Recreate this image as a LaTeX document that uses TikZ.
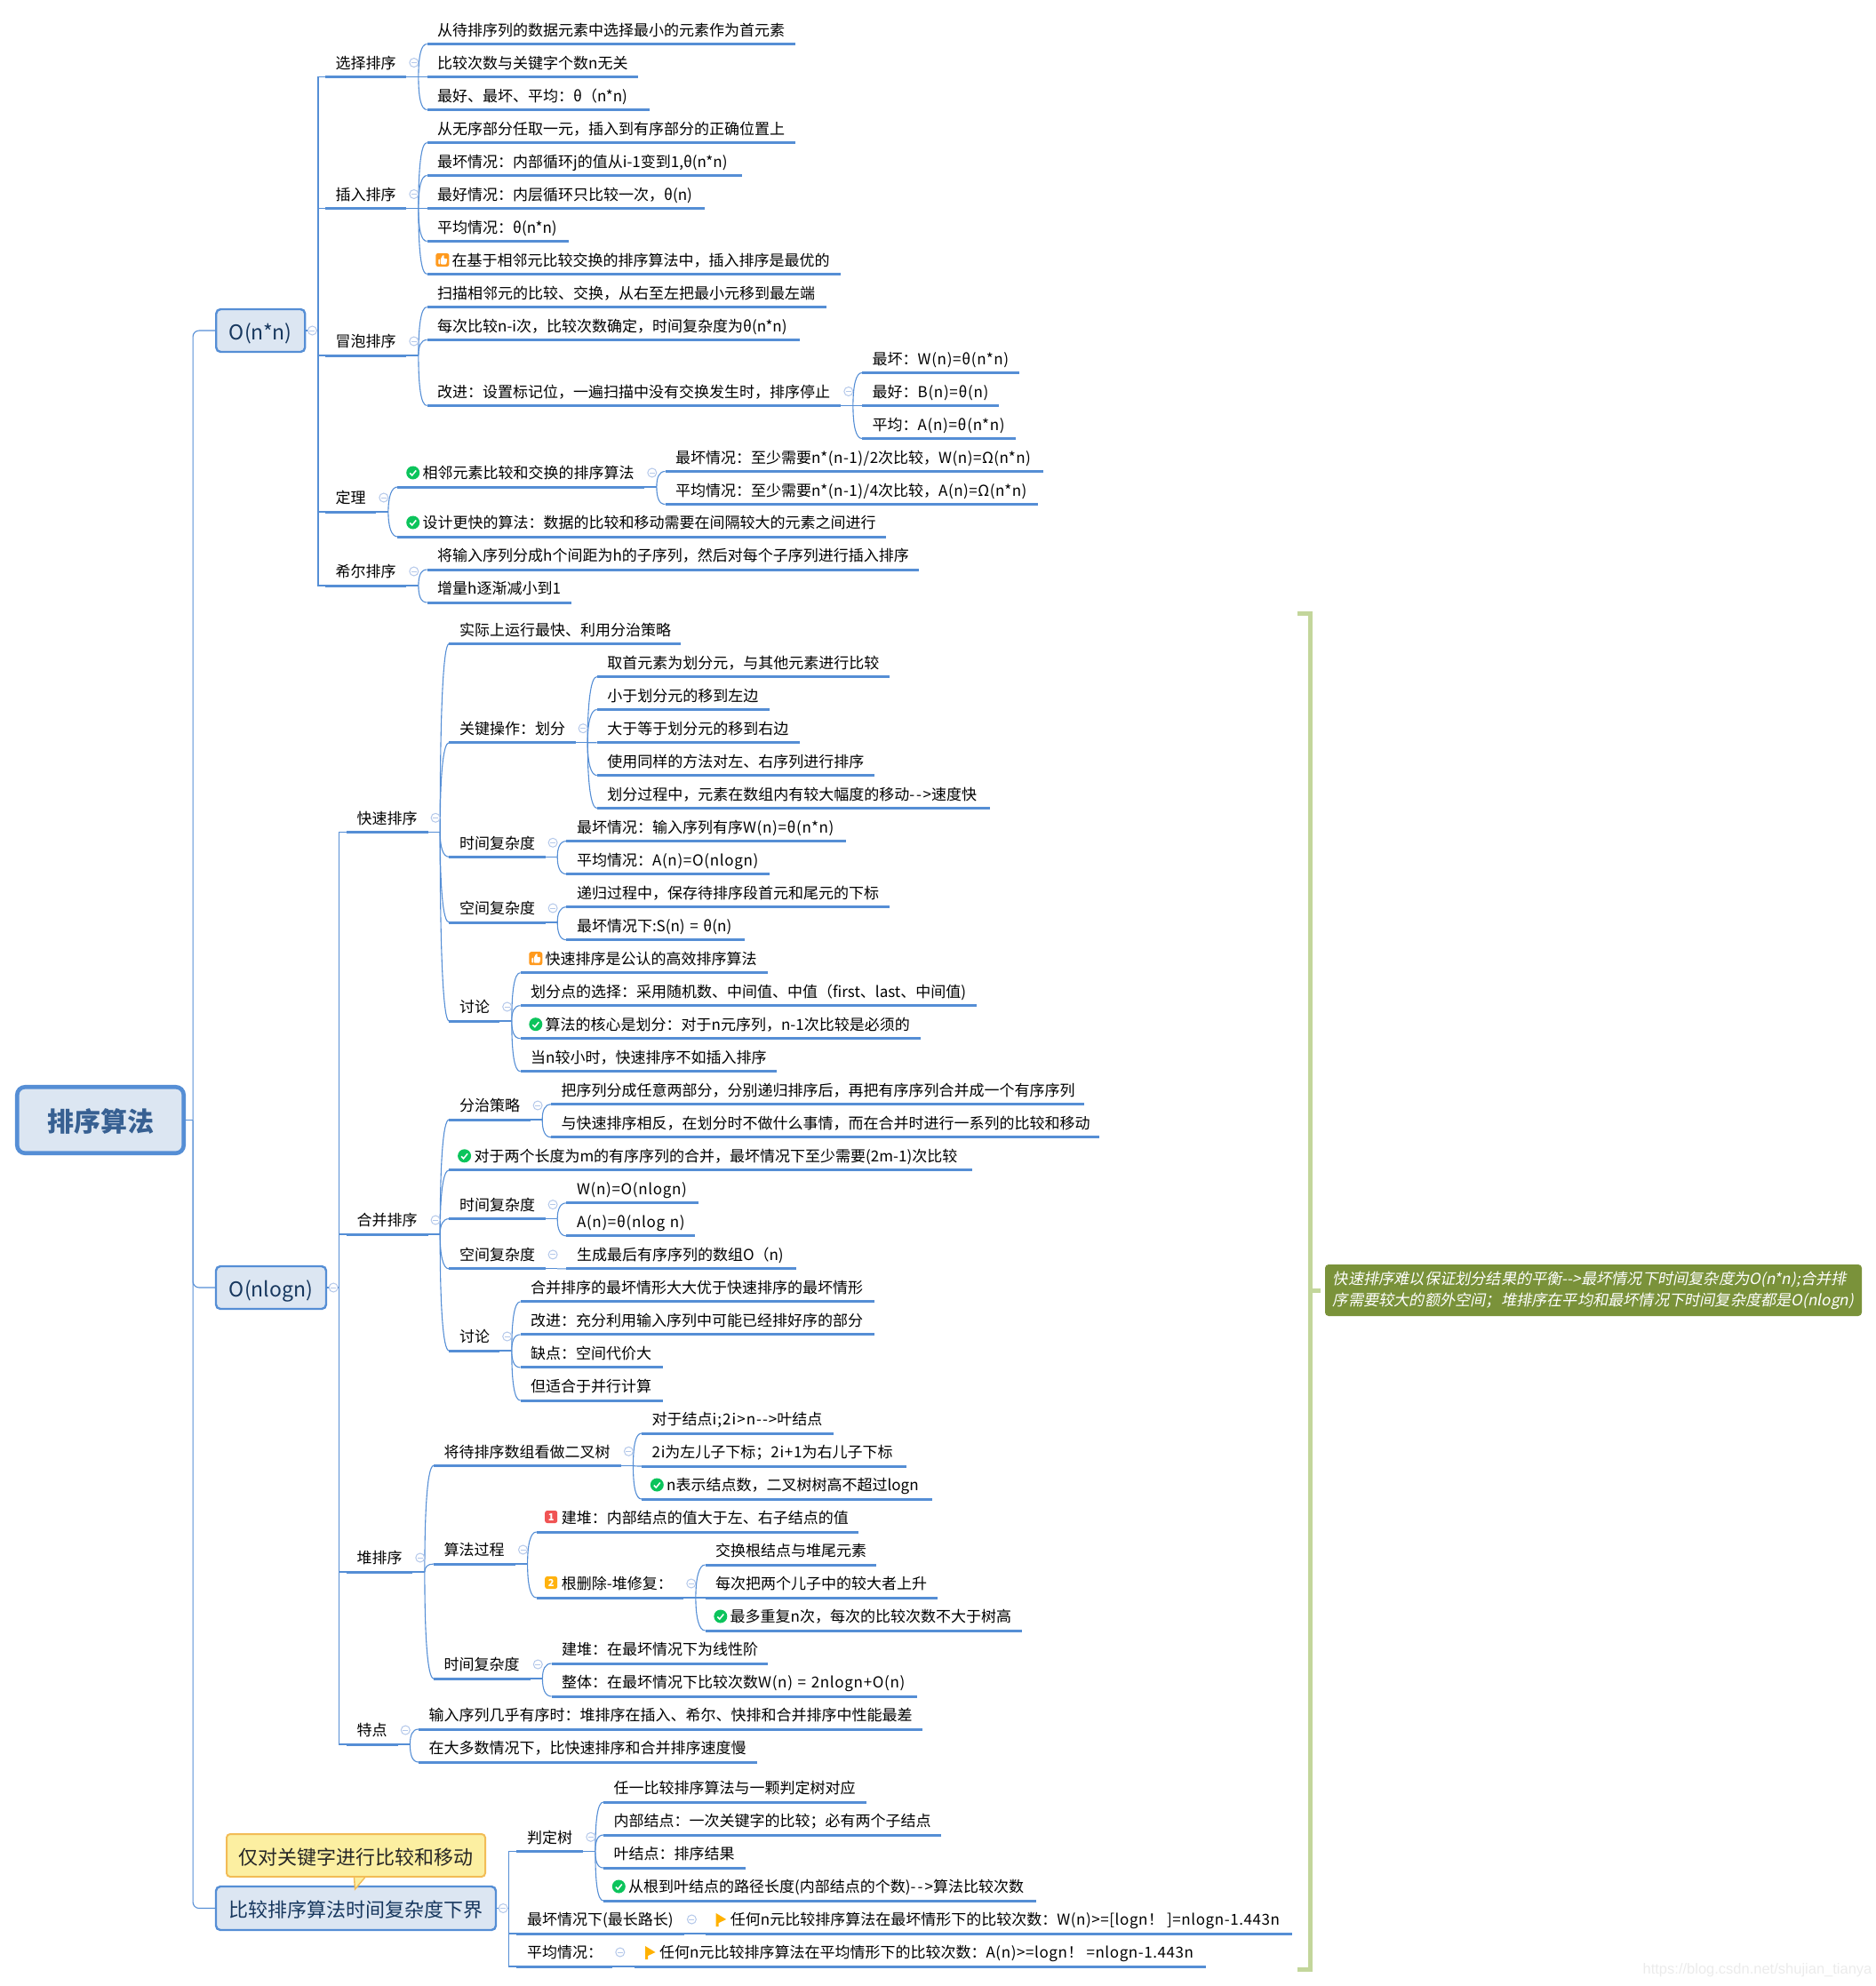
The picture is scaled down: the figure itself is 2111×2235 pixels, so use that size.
\documentclass[tikz,border=0pt]{standalone}
\usepackage{fontspec}
\usetikzlibrary{calc}
\setmainfont{Noto Sans CJK SC}
\newfontfamily\notefont[FakeSlant=0.2]{Noto Sans CJK SC}
\newfontfamily\markfont{Liberation Sans}
\definecolor{linkblue}{HTML}{558ED5}
\definecolor{foldblue}{HTML}{B4C8EA}
\definecolor{boxfill}{HTML}{DCE6F2}
\definecolor{boxtext}{HTML}{17375E}
\definecolor{roottext}{HTML}{376092}
\definecolor{okgreen}{HTML}{0CC45C}
\definecolor{thumborange}{HTML}{FF9A1E}
\definecolor{onered}{HTML}{F05454}
\definecolor{twoyellow}{HTML}{FFB20F}
\definecolor{flagyellow}{HTML}{FFB100}
\definecolor{callfill}{HTML}{FCEFA1}
\definecolor{callline}{HTML}{F2BC56}
\definecolor{bracegreen}{HTML}{C3D69B}
\definecolor{notegreen}{HTML}{7A923A}
\newcommand{\iconpad}{\hspace*{16.5pt}}
\newcommand{\wide}[2][4]{{\addfontfeature{LetterSpace=#1}#2}}
\exhyphenpenalty=10000
\hyphenpenalty=10000
\tikzset{
    topic/.style={anchor=south west, inner xsep=11.5pt, inner ysep=5pt, text width=#1pt-23pt,
        text height=13pt, text depth=4pt, align=left, font=\fontsize{17}{20}\selectfont},
    under/.style={draw=linkblue, line width=3pt},
    link/.style={draw=linkblue, line width=1.1pt},
    mainbox/.style={draw=linkblue, fill=boxfill, line width=2.4pt, rounded corners=5pt,
        text=boxtext, text height=24pt, text depth=4pt, font=\fontsize{22}{26}\selectfont},
    rootbox/.style={draw=linkblue, fill=boxfill, line width=4.6pt, rounded corners=9pt,
        text=roottext, text height=29pt, text depth=3.2pt, font=\fontsize{30}{36}\selectfont\bfseries},
    fold/.style={circle, draw=foldblue, fill=white, line width=1pt, minimum size=10pt, inner sep=0pt,
        path picture={\draw[foldblue, line width=1pt] ([xshift=2pt]path picture bounding box.west) -- ([xshift=-2pt]path picture bounding box.east);}},
    okmark/.style={circle, fill=okgreen, minimum size=15pt, inner sep=0pt,
        path picture={\draw[white, line width=1.5pt] ([shift={(-3.5,0.5)}]path picture bounding box.center) -- ([shift={(-1,3)}]path picture bounding box.center) -- ([shift={(3.5,-2.5)}]path picture bounding box.center);}},
    thumbmark/.style={rounded corners=2.5pt, fill=thumborange, minimum size=15pt, inner sep=0pt,
        path picture={\fill[white, rounded corners=1pt] ([shift={(-4.5,-1)}]path picture bounding box.center) rectangle ([shift={(-2.7,5)}]path picture bounding box.center);
            \fill[white, rounded corners=1pt] ([shift={(-2,5)}]path picture bounding box.center) -- ([shift={(-2,-1)}]path picture bounding box.center) -- ([shift={(0.5,-5.5)}]path picture bounding box.center) -- ([shift={(2,-5.5)}]path picture bounding box.center) -- ([shift={(1.5,-1.5)}]path picture bounding box.center) -- ([shift={(5.5,-1.5)}]path picture bounding box.center) -- ([shift={(4.5,5)}]path picture bounding box.center) -- cycle;}},
    numbermark/.style={rounded corners=2.5pt, minimum size=14pt, inner sep=0pt, text=white,
        font=\fontsize{11}{12}\selectfont\bfseries},
    brace/.style={draw=bracegreen, line width=5pt},
}
\begin{document}
\begin{tikzpicture}[x=1pt, y=-1pt]
    \useasboundingbox (0,0) rectangle (2111,2235);

    % main boxes
    \node[rootbox, minimum width=187.5pt, minimum height=74.5pt] (root) at (113,1260.5) {排序算法};
    \node[mainbox, minimum width=100pt, minimum height=48pt, font=\fontsize{23}{26}\selectfont] (sq) at (293.25,372) {O(n*n)};
    \node[mainbox, minimum width=124pt, minimum height=48pt, font=\fontsize{23}{26}\selectfont] (nl) at (305,1449) {O(nlogn)};
    \node[mainbox, minimum width=315pt, minimum height=49pt] (lb) at (400.5,2147.5) {比较排序算法时间复杂度下界};

    % O(n*n)
    \node[topic=91] (sel) at (366,86.5) {选择排序};
    \node[topic=414.5] (sel1) at (480.5,49.5) {从待排序列的数据元素中选择最小的元素作为首元素};
    \node[topic=237.5] (sel2) at (480.5,86.5) {比较次数与关键字个数n无关};
    \node[topic=250] (sel3) at (480.5,123.5) {最好、最坏、平均：θ（n*n)};
    \node[topic=91] (ins) at (366,234.5) {插入排序};
    \node[topic=414.5] (ins1) at (480.5,160.5) {从无序部分任取一元，插入到有序部分的正确位置上};
    \node[topic=354] (ins2) at (480.5,197.5) {最坏情况：内部循环j的值从i-1变到1,θ(n*n)};
    \node[topic=312.5] (ins3) at (480.5,234.5) {最好情况：内层循环只比较一次，θ(n)};
    \node[topic=159.5] (ins4) at (480.5,271.5) {平均情况：θ(n*n)};
    \node[topic=465.5] (ins5) at (480.5,308.5) {\iconpad 在基于相邻元比较交换的排序算法中，插入排序是最优的};
    \node[topic=91] (bub) at (366,400) {冒泡排序};
    \node[topic=449] (bub1) at (480.5,345.5) {扫描相邻元的比较、交换，从右至左把最小元移到最左端};
    \node[topic=419.5] (bub2) at (480.5,382.5) {每次比较n-i次，比较次数确定，时间复杂度为θ(n*n)};
    \node[topic=465.5] (bub3) at (480.5,456.5) {改进：设置标记位，一遍扫描中没有交换发生时，排序停止};
    \node[topic=177] (imp1) at (970,419.5) {最坏：\wide{W(n)=θ(n*n)}};
    \node[topic=153.5] (imp2) at (970,456.5) {最好：\wide{B(n)=θ(n)}};
    \node[topic=172.6] (imp3) at (970,493.5) {平均：\wide{A(n)=θ(n*n)}};
    \node[topic=57] (thm) at (366,576) {定理};
    \node[topic=277.6] (thm1) at (447.4,548) {\iconpad 相邻元素比较和交换的排序算法};
    \node[topic=425.5] (thm11) at (748.5,530.5) {最坏情况：至少需要\wide[3]{n*(n-1)/2}次比较，\wide[3]{W(n)=Ω(n*n)}};
    \node[topic=419.5] (thm12) at (748.5,567.5) {平均情况：至少需要\wide[3]{n*(n-1)/4}次比较，\wide[3]{A(n)=Ω(n*n)}};
    \node[topic=549.6] (thm2) at (447.4,604) {\iconpad 设计更快的算法：数据的比较和移动需要在间隔较大的元素之间进行};
    \node[topic=91] (she) at (366,659) {希尔排序};
    \node[topic=553.5] (she1) at (480.5,641) {将输入序列分成h个间距为h的子序列，然后对每个子序列进行插入排序};
    \node[topic=162.5] (she2) at (480.5,678) {增量h逐渐减小到1};

    % O(nlogn): quick sort
    \node[topic=91.3] (qui) at (390,936.3) {快速排序};
    \node[topic=260] (qui1) at (505.3,724.5) {实际上运行最快、利用分治策略};
    \node[topic=142] (qui2) at (505.3,835.7) {关键操作：划分};
    \node[topic=329] (par1) at (671.7,761.5) {取首元素为划分元，与其他元素进行比较};
    \node[topic=193.5] (par2) at (671.7,798.5) {小于划分元的移到左边};
    \node[topic=227.5] (par3) at (671.7,835.7) {大于等于划分元的移到右边};
    \node[topic=312] (par4) at (671.7,872.6) {使用同样的方法对左、右序列进行排序};
    \node[topic=441.5] (par5) at (671.7,909.6) {划分过程中，元素在数组内有较大幅度的移动\wide[10]{-{}->}速度快};
    \node[topic=108] (qui3) at (505.3,964.3) {时间复杂度};
    \node[topic=314] (qt1) at (637.3,946.6) {最坏情况：输入序列有序\wide{W(n)=θ(n*n)}};
    \node[topic=228] (qt2) at (637.3,983.6) {平均情况：\wide{A(n)=O(nlogn)}};
    \node[topic=108] (qui4) at (505.3,1038) {空间复杂度};
    \node[topic=363.6] (qs1) at (637.3,1020.7) {递归过程中，保存待排序段首元和尾元的下标};
    \node[topic=200] (qs2) at (637.3,1057.7) {最坏情况下:S(n)~=~θ(n)};
    \node[topic=56.6] (qui5) at (505.3,1149) {讨论};
    \node[topic=278.5] (qd1) at (585.5,1094.7) {\iconpad 快速排序是公认的高效排序算法};
    \node[topic=513.5] (qd2) at (585.5,1131.7) {划分点的选择：采用随机数、中间值、中值（first、last、中间值)};
    \node[topic=450.5] (qd3) at (585.5,1168.7) {\iconpad 算法的核心是划分：对于n元序列，n-1次比较是必须的};
    \node[topic=288.5] (qd4) at (585.5,1205.8) {当n较小时，快速排序不如插入排序};

    % O(nlogn): merge sort
    \node[topic=91.3] (mrg) at (390,1389) {合并排序};
    \node[topic=91] (mrg1) at (505.3,1260) {分治策略};
    \node[topic=600] (dc1) at (620,1242.8) {把序列分成任意两部分，分别递归排序后，再把有序序列合并成一个有序序列};
    \node[topic=617] (dc2) at (620,1279.8) {与快速排序相反，在划分时不做什么事情，而在合并时进行一系列的比较和移动};
    \node[topic=588] (mrg2) at (505.3,1316.8) {\iconpad 对于两个长度为m的有序序列的合并，最坏情况下至少需要(2m-1)次比较};
    \node[topic=108] (mrg3) at (505.3,1371.6) {时间复杂度};
    \node[topic=148] (mt1) at (637.3,1353.8) {\wide{W(n)=O(nlogn)}};
    \node[topic=144] (mt2) at (637.3,1390.9) {\wide{A(n)=θ(nlog~n)}};
    \node[topic=108] (mrg4) at (505.3,1427.9) {空间复杂度};
    \node[topic=258] (ms1) at (637.3,1427.9) {生成最后有序序列的数组O（n)};
    \node[topic=56.6] (mrg5) at (505.3,1520) {讨论};
    \node[topic=398] (md1) at (585.5,1464.9) {合并排序的最坏情形大大优于快速排序的最坏情形};
    \node[topic=398] (md2) at (585.5,1501.9) {改进：充分利用输入序列中可能已经排好序的部分};
    \node[topic=160] (md3) at (585.5,1538.9) {缺点：空间代价大};
    \node[topic=160] (md4) at (585.5,1576) {但适合于并行计算};

    % O(nlogn): heap sort
    \node[topic=74] (hea) at (390,1769) {堆排序};
    \node[topic=210.6] (hea1) at (488,1649.3) {将待排序数组看做二叉树};
    \node[topic=216] (tr1) at (722,1613) {对于结点\wide[6]{i;2i>n-{}->}叶结点};
    \node[topic=297.5] (tr2) at (722,1650) {\wide{2i}为左儿子下标；\wide{2i+1}为右儿子下标};
    \node[topic=326.6] (tr3) at (722,1687) {\iconpad n表示结点数，二叉树树高不超过logn};
    \node[topic=91.7] (hea2) at (488,1760) {算法过程};
    \node[topic=362.3] (alg1) at (603.7,1724) {\iconpad 建堆：内部结点的值大于左、右子结点的值};
    \node[topic=165.3] (alg2) at (603.7,1798) {\iconpad 根删除-堆修复：};
    \node[topic=192.5] (rep1) at (793.5,1761) {交换根结点与堆尾元素};
    \node[topic=261] (rep2) at (793.5,1798) {每次把两个儿子中的较大者上升};
    \node[topic=356] (rep3) at (793.5,1835) {\iconpad 最多重复n次，每次的比较次数不大于树高};
    \node[topic=108.5] (hea3) at (488,1889) {时间复杂度};
    \node[topic=243.5] (ht1) at (620.5,1872) {建堆：在最坏情况下为线性阶};
    \node[topic=411.5] (ht2) at (620.5,1909) {整体：在最坏情况下比较次数\wide{W(n)~=~2nlogn+O(n)}};
    \node[topic=57.5] (spe) at (390,1963) {特点};
    \node[topic=567] (spe1) at (471,1946) {输入序列几乎有序时：堆排序在插入、希尔、快排和合并排序中性能最差};
    \node[topic=381] (spe2) at (471,1983) {在大多数情况下，比快速排序和合并排序速度慢};

    % lower bound
    \node[topic=74.6] (dec) at (581.4,2083.3) {判定树};
    \node[topic=295.5] (dec1) at (679,2028) {任一比较排序算法与一颗判定树对应};
    \node[topic=380] (dec2) at (679,2065) {内部结点：一次关键字的比较；必有两个子结点};
    \node[topic=159.5] (dec3) at (679,2102) {叶结点：排序结果};
    \node[topic=487] (dec4) at (679,2139) {\iconpad 从根到叶结点的路径长度(内部结点的个数)\wide[12]{-{}->}算法比较次数};
    \node[topic=188.2] (wor) at (581.4,2176) {最坏情况下(最长路长)};
    \node[topic=660] (wor1) at (793.7,2176) {\iconpad 任何n元比较排序算法在最坏情形下的比较次数：\wide[3.4]{W(n)>=[logn！\hspace{4pt}]=nlogn-1.443n}};
    \node[topic=107.6] (avg) at (581.4,2213) {平均情况：};
    \node[topic=642.7] (avg1) at (714,2213) {\iconpad 任何n元比较排序算法在平均情形下的比较次数：\wide[3.4]{A(n)>=logn！\hspace{4pt}=nlogn-1.443n}};

    % root and level one connectors
    \coordinate (rootbar) at ($(root.east)+(8,0)$);
    \draw[link] (root.east) -- (rootbar);
    \foreach \k in {sq,nl,lb}
        \draw[link, rounded corners=7pt] (rootbar) |- (\k.west);

    % level two: square corners
    \foreach \p/\kids in {sq/{sel,ins,bub,thm,she}, nl/{qui,mrg,hea,spe}, lb/{dec,wor,avg}} {
        \coordinate (bar) at ($(\p.east)+(13.5,0)$);
        \draw[link] (\p.east) -- (bar);
        \foreach \k in \kids
            \draw[link] (bar) |- (\k.south west);
    }

    % deeper levels: sweeping curves
    \foreach \p/\kids in {sel/{sel1,sel2,sel3}, ins/{ins1,ins2,ins3,ins4,ins5}, bub/{bub1,bub2,bub3},
            bub3/{imp1,imp2,imp3}, thm/{thm1,thm2}, thm1/{thm11,thm12}, she/{she1,she2},
            qui/{qui1,qui2,qui3,qui4,qui5}, qui2/{par1,par2,par3,par4,par5}, qui3/{qt1,qt2}, qui4/{qs1,qs2},
            qui5/{qd1,qd2,qd3,qd4}, mrg/{mrg1,mrg2,mrg3,mrg4,mrg5}, mrg1/{dc1,dc2}, mrg3/{mt1,mt2}, mrg4/{ms1},
            mrg5/{md1,md2,md3,md4}, hea/{hea1,hea2,hea3}, hea1/{tr1,tr2,tr3}, hea2/{alg1,alg2}, alg2/{rep1,rep2,rep3},
            hea3/{ht1,ht2}, spe/{spe1,spe2}, dec/{dec1,dec2,dec3,dec4}, wor/{wor1}, avg/{avg1}} {
        \coordinate (bar) at ($(\p.south east)+(13.5,0)$);
        \draw[link] (\p.south east) -- (bar);
        \foreach \k in \kids
            \draw[link] (bar) .. controls ($(bar)!0.6!(bar |- \k.south west)$) and ($(\k.south west)+(-7,0)$) .. (\k.south west);
    }

    % underlines
    \foreach \n in {sel,sel1,sel2,sel3,ins,ins1,ins2,ins3,ins4,ins5,bub,bub1,bub2,bub3,imp1,imp2,imp3,
            thm,thm1,thm11,thm12,thm2,she,she1,she2,
            qui,qui1,qui2,par1,par2,par3,par4,par5,qui3,qt1,qt2,qui4,qs1,qs2,qui5,qd1,qd2,qd3,qd4,
            mrg,mrg1,dc1,dc2,mrg2,mrg3,mt1,mt2,mrg4,ms1,mrg5,md1,md2,md3,md4,
            hea,hea1,tr1,tr2,tr3,hea2,alg1,alg2,rep1,rep2,rep3,hea3,ht1,ht2,spe,spe1,spe2,
            dec,dec1,dec2,dec3,dec4,wor,wor1,avg,avg1}
        \draw[under] (\n.south west) -- (\n.south east);

    % fold marks
    \foreach \n in {sel,ins,bub,bub3,thm,thm1,she,qui,qui2,qui3,qui4,qui5,mrg,mrg1,mrg3,mrg4,mrg5,
            hea,hea1,hea2,alg2,hea3,spe,dec,wor,avg}
        \node[fold] (f\n) at ($(\n.south east)+(8.4,-16)$) {};
    \foreach \n in {sq,nl,lb}
        \node[fold] (f\n) at ($(\n.east)+(7,0)$) {};

    % icons
    \foreach \n in {thm1,thm2,qd3,mrg2,tr3,rep3,dec4}
        \node[okmark] (ok\n) at ($(\n.south west)+(17.3,-16)$) {};
    \foreach \n in {ins5,qd1}
        \node[thumbmark] (up\n) at ($(\n.south west)+(17.3,-16)$) {};
    \node[numbermark, fill=onered] (num1) at ($(alg1.south west)+(16.5,-17)$) {1};
    \node[numbermark, fill=twoyellow] (num2) at ($(alg2.south west)+(16.5,-17)$) {2};
    \foreach \n in {wor1,avg1}
        \fill[flagyellow] ($(\n.south west)+(12,-23)$) -- ++(11.5,7) -- ++(-8.5,4) -- ++(0,4) -- ++(-3,0) -- cycle;

    % callout
    \node[draw=callline, fill=callfill, line width=2pt, rounded corners=4pt, minimum width=291pt, minimum height=48pt,
        text height=24pt, text depth=4pt, font=\fontsize{22}{26}\selectfont, text=black!85] (call) at (400.5,2088) {仅对关键字进行比较和移动};
    \coordinate (calla) at ($(call.south)+(-2,0)$);
    \coordinate (callb) at ($(call.south)+(10,0)$);
    \coordinate (calltip) at ($(call.south)+(-1,13)$);
    \fill[callfill] (calla) -- (callb) -- (calltip) -- cycle;
    \draw[callline, line width=1.4pt] (callb) -- (calltip) -- (calla);

    % summary
    \node[fill=notegreen, rounded corners=4pt, text=white, minimum width=604pt, minimum height=58pt, inner xsep=0pt,
        align=left, font=\notefont\fontsize{17.2}{24}\selectfont] (note) at (1793,1452)
        {快速排序难以保证划分结果的平衡-->最坏情况下时间复杂度为O(n*n);合并排\\序需要较大的额外空间；堆排序在平均和最坏情况下时间复杂度都是O(nlogn)};
    \coordinate (bracetop) at (1460,690);
    \coordinate (bracebot) at (1460,2216);
    \coordinate (bracemid) at (1474,1452);
    \draw[brace, line join=miter] (bracetop) -- (bracetop -| bracemid) -- (bracebot -| bracemid) -- (bracebot);
    \draw[brace] (bracemid) -- ($(note.west)+(-5,0)$);

    % watermark
    \node[font=\markfont\fontsize{16.5}{20}\selectfont, text=black!8, inner sep=0pt] (mark) at (1977.5,2217) {https://blog.csdn.net/shujian\_tianya};
\end{tikzpicture}
\end{document}
